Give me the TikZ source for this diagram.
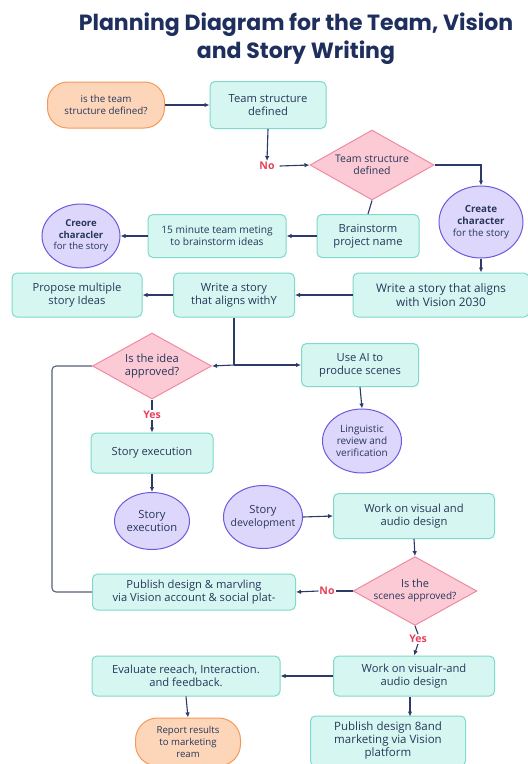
\documentclass[tikz,border=0pt]{standalone}
\usepackage{fontspec}
\setmainfont{Open Sans}
\newfontfamily\titlefont{Poppins}
\usetikzlibrary{shapes.geometric,arrows.meta}
\definecolor{ink}{HTML}{27365A}
\definecolor{navy}{HTML}{1E2F5E}
\definecolor{tealfill}{HTML}{D6F7F1}
\definecolor{tealline}{HTML}{7FD9CC}
\definecolor{pinkfill}{HTML}{FBCAD5}
\definecolor{pinkline}{HTML}{F08BA2}
\definecolor{purpfill}{HTML}{DDD7FB}
\definecolor{purpline}{HTML}{6A5BDD}
\definecolor{orfill}{HTML}{FDD6BA}
\definecolor{orline}{HTML}{F29A5A}
\definecolor{redlab}{HTML}{E8405A}
\definecolor{arrowc}{HTML}{2B3A67}
\definecolor{fbline}{HTML}{56607A}
\tikzset{
  every node/.style={text=ink, align=center, font=\fontsize{11.2}{13}\selectfont},
  tbox/.style={draw=tealline, fill=tealfill, line width=1pt, rounded corners=5pt, inner sep=0pt},
  dia/.style={diamond, draw=pinkline, fill=pinkfill, line width=1pt, inner sep=0pt, aspect=1.8},
  ell/.style={ellipse, draw=purpline, fill=purpfill, line width=1pt, inner sep=0pt},
  pill/.style={draw=orline, fill=orfill, line width=1pt, rounded corners=20pt, inner sep=0pt},
  lab/.style={text=redlab, font=\fontsize{10.5}{12}\selectfont\bfseries, inner sep=1pt},
  arr/.style={draw=arrowc, line width=1.1pt, -{Latex[length=5pt,width=4.5pt]}},
  ln/.style={draw=arrowc, line width=1.1pt},
}
\begin{document}
\begin{tikzpicture}[x=1pt,y=-1pt]
\useasboundingbox[fill=white] (0,0) rectangle (528,764);
% title
\node[font=\titlefont\bfseries\fontsize{22}{28}\selectfont, text=navy] (title) at (296,39) {Planning Diagram for the Team, Vision\\and Story Writing};
% row 1
\node[pill, minimum width=117, minimum height=46, font=\fontsize{9.8}{12}\selectfont] (start) at (106,105) {is the team\\structure defined?};
\node[tbox, minimum width=116, minimum height=47] (tsd) at (268,105) {Team structure\\defined};
\node[lab] (no1) at (267,166) {No};
\node[dia, minimum width=124, minimum height=70, font=\fontsize{10.5}{12.5}\selectfont] (d1) at (372,165) {Team structure\\defined};
\node[ell, minimum width=84, minimum height=72, font=\fontsize{9.8}{12}\selectfont] (cc) at (481,222) {\textbf{Create}\\\textbf{character}\\for the story};
% row 2
\node[tbox, minimum width=102, minimum height=43] (bpn) at (368,236) {Brainstorm\\project name};
\node[tbox, minimum width=138, minimum height=43, font=\fontsize{10.2}{12.5}\selectfont] (meet) at (217,236) {15 minute team meting\\to brainstorm ideas};
\node[ell, minimum width=78, minimum height=64, font=\fontsize{9.5}{11.5}\selectfont] (cc2) at (81,236) {\textbf{Creore}\\\textbf{characler}\\for the story};
% row 3
\node[tbox, minimum width=176, minimum height=44, font=\fontsize{11.8}{13.5}\selectfont] (w8) at (441,295) {Write a story that aligns\\with Vision 2030};
\node[tbox, minimum width=121, minimum height=44] (w9) at (234,295) {Write a story\\that aligns withY};
\node[tbox, minimum width=130, minimum height=44] (prop) at (77,295) {Propose multiple\\story Ideas};
% row 4
\node[dia, minimum width=119, minimum height=66] (idea) at (152,366) {Is the idea\\approved?};
\coordinate (split) at (234,365);
\node[tbox, minimum width=117, minimum height=43] (ai) at (360,365) {Use AI to\\produce scenes};
\node[ell, minimum width=79, minimum height=64, font=\fontsize{10}{12}\selectfont] (ling) at (362,441) {Linguistic\\review and\\verification};
\node[lab] (yes1) at (152,415) {Yes};
\node[tbox, minimum width=122, minimum height=40] (se) at (152,453) {Story execution};
\node[ell, minimum width=75, minimum height=57] (se2) at (152,521) {Story\\execution};
\node[ell, inner sep=-8pt, minimum width=79, minimum height=63, font=\fontsize{10.5}{12.5}\selectfont] (sd) at (263,517) {\fontsize{11.2}{12}\selectfont Story\\development};
\node[tbox, minimum width=161, minimum height=45] (wva) at (414,516) {Work on visual and\\audio design};
\node[dia, minimum width=118, minimum height=67, font=\fontsize{10}{12}\selectfont] (d2) at (415,591) {{\fontsize{11}{12}\selectfont Is the}\\scenes approved?};
\node[lab] (no2) at (327,591) {No};
\node[tbox, minimum width=203, minimum height=36] (pub) at (194,592) {Publish design \& marvling\\via Vision account \& social plat-};
\coordinate (fb) at (52,592);
\node[lab] (yes2) at (418,639) {Yes};
\node[tbox, minimum width=161, minimum height=40] (wva2) at (414,676) {Work on visualr-and\\audio design};
\node[tbox, minimum width=188, minimum height=40] (eval) at (186,676) {Evaluate reeach, Interaction.\\and feedback.};
\node[pill, minimum width=105, minimum height=48, rounded corners=22pt, font=\fontsize{9.6}{11.8}\selectfont] (rep) at (188,742) {Report results\\to marketing\\ream};
\node[tbox, minimum width=155, minimum height=50, font=\fontsize{11.5}{13}\selectfont] (pdm) at (388,741) {Publish design 8and\\marketing via Vision\\platform};
% connectors
\draw[arr] (start) -- (tsd);
\draw[arr] (tsd.south) -- (no1.north);
\draw[arr] (no1.east) ++(4,0) -- (d1.west);
\draw[arr] (d1.east) -| (cc.north);
\draw[ln] (d1.south) -- (bpn.north);
\draw[arr] (bpn.west) -- (meet.east);
\draw[arr] (meet.west) -- (cc2.east);
\draw[arr] (cc.south) -- (cc.south |- w8.north);
\draw[arr] (w8.west) -- (w9.east);
\draw[arr] (w9.west) -- (prop.east);
\draw[ln] (w9.south) -- (split);
\draw[arr] (split) -- (idea.east);
\draw[arr] (split) -- (ai.west);
\draw[arr] (ai.south) -- (ling.north);
\draw[ln] (idea.south) -- (yes1.north);
\draw[arr] (yes1.south) -- (se.north);
\draw[arr] (se.south) -- (se2.north);
\draw[arr] (sd.east) -- (wva.west);
\draw[arr] (wva.south) -- (d2.north);
\draw[ln] (d2.west) -- (no2.east);
\draw[arr] (no2.west) -- (pub.east);
\draw[draw=fbline, line width=1.1pt, rounded corners=4pt] (pub.west) -- (fb) |- (idea.west);
\draw[ln] (d2.south) -- (yes2.north);
\draw[arr] (yes2.south) -- (wva2.north);
\draw[arr] (wva2.west) -- (eval.east);
\draw[arr] (eval.south) -- (rep.north);
\draw[arr] (wva2.south -| pdm.north) ++(22,0) -- ++(0,20);
\end{tikzpicture}
\end{document}
